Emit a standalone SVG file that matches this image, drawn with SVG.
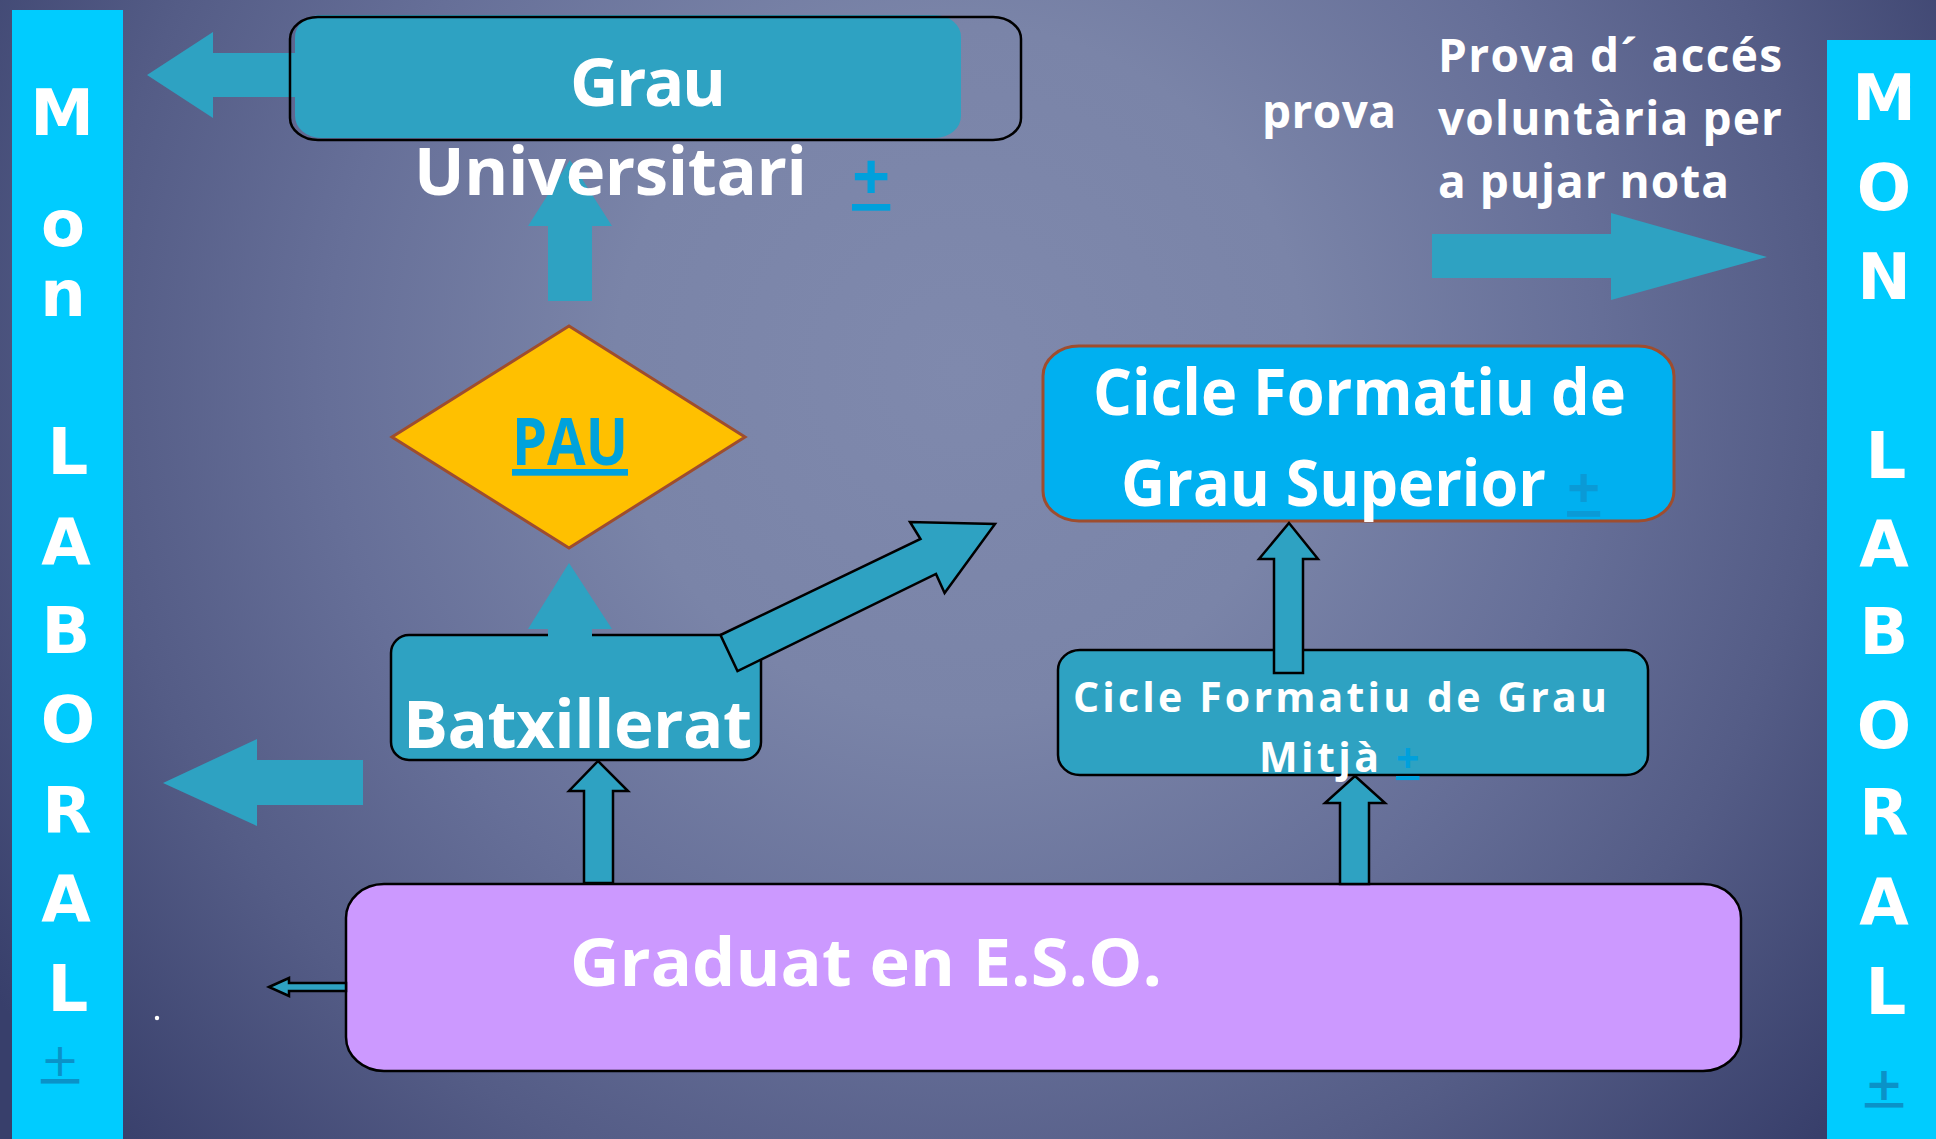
<svg xmlns="http://www.w3.org/2000/svg" width="1936" height="1139" viewBox="0 0 1936 1139">
<defs>
<radialGradient id="bg" gradientUnits="userSpaceOnUse" cx="960" cy="370" r="1150">
<stop offset="0" stop-color="#7f89ad"/>
<stop offset="0.3" stop-color="#7a84a8"/>
<stop offset="0.55" stop-color="#666f98"/>
<stop offset="0.75" stop-color="#545c86"/>
<stop offset="1" stop-color="#383f6b"/>
</radialGradient>
<style>
.t{font-family:"Open Sans","Noto Sans",sans-serif;font-weight:bold;fill:#ffffff}
.bar{fill:#00ccff}
.bl{font-family:"DejaVu Sans",sans-serif;font-weight:bold;font-size:64px;fill:#ffffff;text-anchor:middle}
.teal{fill:#2ea2c2}
.tealS{fill:#2ea2c2;stroke:#000000;stroke-width:2.5;stroke-linejoin:miter}
.plus{font-family:"Open Sans","Noto Sans",sans-serif;font-weight:bold;text-decoration:underline}
</style>
</defs>
<rect x="0" y="0" width="1936" height="1139" fill="url(#bg)"/>

<g id="mon-laboral-left">
<rect class="bar" x="12" y="10" width="111" height="1129"/>
<text class="bl" x="62" y="135">M</text>
<text class="bl" x="63" y="246">o</text>
<text class="bl" x="63" y="316">n</text>
<text class="bl" x="68" y="474">L</text>
<text class="bl" x="66" y="565">A</text>
<text class="bl" x="66" y="653">B</text>
<text class="bl" x="68" y="742">O</text>
<text class="bl" x="67" y="833">R</text>
<text class="bl" x="66" y="922">A</text>
<text class="bl" x="68" y="1011">L</text>
<text x="60" y="1076" font-family="DejaVu Sans,sans-serif" font-size="46" fill="#0a92c8" text-anchor="middle" text-decoration="underline">+</text>
</g>

<g id="mon-laboral-right">
<rect class="bar" x="1827" y="40" width="109" height="1099"/>
<text class="bl" x="1884" y="120">M</text>
<text class="bl" x="1884" y="210">O</text>
<text class="bl" x="1884" y="299">N</text>
<text class="bl" x="1886" y="478">L</text>
<text class="bl" x="1884" y="567">A</text>
<text class="bl" x="1884" y="654">B</text>
<text class="bl" x="1884" y="748">O</text>
<text class="bl" x="1884" y="835">R</text>
<text class="bl" x="1884" y="925">A</text>
<text class="bl" x="1886" y="1014">L</text>
<text x="1884" y="1100" font-family="DejaVu Sans,sans-serif" font-weight="bold" font-size="46" fill="#0a92c8" text-anchor="middle" text-decoration="underline">+</text>
</g>

<g id="connectors">
<polygon id="arrow-grau-left" class="teal" points="147,75 213,32 213,53 300,53 300,97 213,97 213,118"/>
<polygon id="arrow-pau-grau" class="teal" points="570,160 612,226 592,226 592,301 548,301 548,226 528,226"/>
<polygon id="arrow-prova-right" class="teal" points="1432,234 1611,234 1611,213 1767,257 1611,300 1611,278 1432,278"/>
<polygon id="arrow-batx-left" class="teal" points="163,783 257,739 257,760 363,760 363,805 257,805 257,826"/>
</g>

<g id="node-grau">
<rect x="295" y="15" width="666" height="123" rx="26" ry="22" fill="#2ea2c2"/>
<rect x="290" y="17" width="731" height="123" rx="28" ry="22" fill="none" stroke="#000000" stroke-width="2.5"/>
<text class="t" x="570" y="106" font-size="67" textLength="156" lengthAdjust="spacing">Grau</text>
<text class="t" x="414" y="195" font-size="67" textLength="393" lengthAdjust="spacing">Universitari</text>
<text class="plus" x="852" y="200" font-size="67" fill="#00a0dc">+</text>
</g>

<g id="node-prova">
<text class="t" x="1262" y="128" font-size="46" textLength="134" lengthAdjust="spacing">prova</text>
<text class="t" x="1438" y="72" font-size="46" textLength="344" lengthAdjust="spacing">Prova d´ accés</text>
<text class="t" x="1438" y="135" font-size="46" textLength="344" lengthAdjust="spacing">voluntària per</text>
<text class="t" x="1438" y="198" font-size="46" textLength="291" lengthAdjust="spacing">a pujar nota</text>
</g>

<g id="node-pau">
<polygon points="569,326 745,437 569,548 392,437" fill="#ffc000" stroke="#9e4d2e" stroke-width="3"/>
<text x="512" y="465" font-family="Open Sans,Noto Sans,sans-serif" font-weight="bold" font-size="67" fill="#00a2dc" text-decoration="underline" textLength="116" lengthAdjust="spacingAndGlyphs">PAU</text>
</g>

<g id="node-cfgs">
<rect x="1043" y="346" width="631" height="175" rx="36" ry="30" fill="#00b0f0" stroke="#9e4d2e" stroke-width="3"/>
<text class="t" x="1093" y="415" font-size="64" textLength="533" lengthAdjust="spacingAndGlyphs">Cicle Formatiu de</text>
<text class="t" x="1121" y="506" font-size="64" textLength="425" lengthAdjust="spacingAndGlyphs">Grau Superior</text>
<text class="plus" x="1567" y="508" font-size="58" fill="#0a9ad6">+</text>
</g>

<g id="node-batxillerat">
<rect x="391" y="635" width="370" height="125" rx="18" ry="18" fill="#2ea2c2" stroke="#000000" stroke-width="2.5"/>
<text class="t" x="403" y="748" font-size="67" textLength="349" lengthAdjust="spacing">Batxillerat</text>
</g>

<g id="node-mitja">
<rect x="1058" y="650" width="590" height="125" rx="22" ry="20" fill="#2ea2c2" stroke="#000000" stroke-width="2.5"/>
<text class="t" x="1073" y="712" font-size="41" textLength="534" lengthAdjust="spacing">Cicle Formatiu de Grau</text>
<text class="t" x="1259" y="772" font-size="41" textLength="120" lengthAdjust="spacing">Mitjà</text>
<text class="plus" x="1396" y="773" font-size="41" fill="#00a0dc">+</text>
</g>

<g id="node-eso">
<rect x="346" y="884" width="1395" height="187" rx="38" ry="34" fill="#cc99ff" stroke="#000000" stroke-width="2.5"/>
<text class="t" x="570" y="986" font-size="67" textLength="592" lengthAdjust="spacingAndGlyphs">Graduat en E.S.O.</text>
</g>

<g id="connectors-outlined">
<polygon id="arrow-batx-pau" class="teal" points="569,563 612,629 592,629 592,640 548,640 548,629 528,629"/>
<polygon id="arrow-batx-cfgs" class="tealS" points="720.5,635 920.5,539 910,522 995,524 944.6,593 936,574 737.5,671"/>
<polygon id="arrow-eso-batx" class="tealS" points="598,761 628,791 613,791 613,883 584,883 584,791 569,791"/>
<polygon id="arrow-eso-mitja" class="tealS" points="1355,776 1385,803 1369,803 1369,884 1340,884 1340,803 1325,803"/>
<polygon id="arrow-mitja-cfgs" class="tealS" points="1289,523 1318,559 1303,559 1303,673 1274,673 1274,559 1259,559"/>
<polygon id="arrow-eso-left" class="tealS" points="269,987 289,978 289,983 346,983 346,991 289,991 289,996"/>
</g>
<circle cx="157" cy="1018" r="2.2" fill="#ffffff"/>
</svg>
